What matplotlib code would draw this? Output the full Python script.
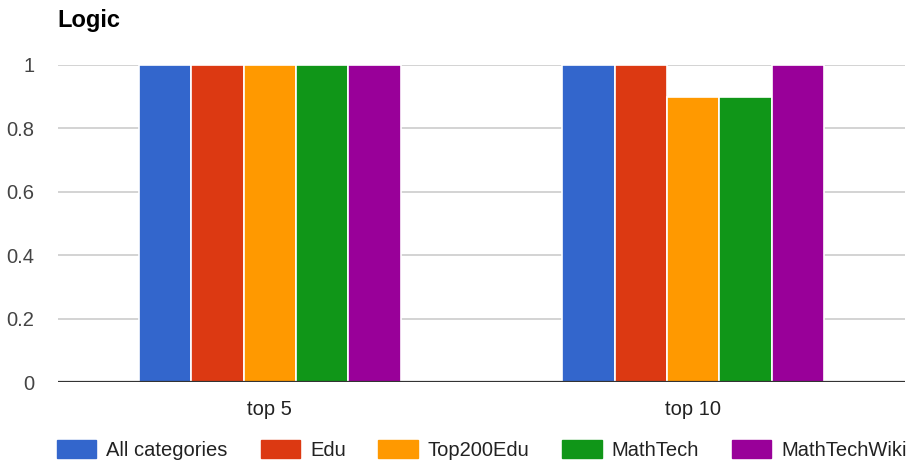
import numpy as np
import matplotlib.pyplot as plt
from matplotlib.patches import Patch

plt.rcParams['font.family'] = ['Liberation Sans', 'DejaVu Sans']

categories = ["top 5", "top 10"]
series_names = ["All categories", "Edu", "Top200Edu", "MathTech", "MathTechWiki"]
series_colors = ["#3366cc", "#dc3912", "#ff9900", "#109618", "#990099"]
values = {
    "All categories": [1.0, 1.0],
    "Edu": [1.0, 1.0],
    "Top200Edu": [1.0, 0.9],
    "MathTech": [1.0, 0.9],
    "MathTechWiki": [1.0, 1.0],
}
yticks = [0, 0.2, 0.4, 0.6, 0.8, 1]
ytick_labels = ["0", "0.2", "0.4", "0.6", "0.8", "1"]

fig = plt.figure(figsize=(9.08, 4.62), dpi=100)
ax = fig.add_axes([58 / 908, 80 / 462, 847 / 908, 317 / 462])

x = np.arange(len(categories))
bw = 0.1235
n = len(series_names)
for i, name in enumerate(series_names):
    offs = (i - (n - 1) / 2) * bw
    ax.bar(x + offs, values[name], width=bw, color=series_colors[i],
           edgecolor="white", linewidth=1.2, zorder=3, clip_on=False)

ax.set_xlim(-0.5, 1.5)
ax.set_ylim(0, 1)
ax.set_yticks(yticks)
ax.set_yticklabels(ytick_labels)
ax.set_xticks(x)
ax.set_xticklabels(categories)
ax.grid(axis="y", color="#cccccc", linewidth=1.2, zorder=0)
ax.axhline(0, color="#333333", linewidth=1.6, zorder=4)
for s in ax.spines.values():
    s.set_visible(False)
ax.tick_params(axis="both", length=0, labelsize=14.5, colors="#444444")
ax.tick_params(axis="y", pad=17)
ax.tick_params(axis="x", pad=13, colors="#222222")

fig.text(57 / 908, 1 - 27 / 462, "Logic", fontsize=17, fontweight="bold",
         color="#000000", ha="left", va="baseline")

handles = [Patch(facecolor=c, edgecolor=c) for c in series_colors]
fig.legend(handles, series_names, loc="lower left",
           bbox_to_anchor=(57 / 908, 2 / 462), ncol=5, frameon=False,
           fontsize=14.5, handlelength=1.95, handleheight=1.0,
           handletextpad=0.5, columnspacing=1.63, borderpad=0,
           borderaxespad=0, labelcolor="#222222")

fig.savefig("out.png", dpi=100)
